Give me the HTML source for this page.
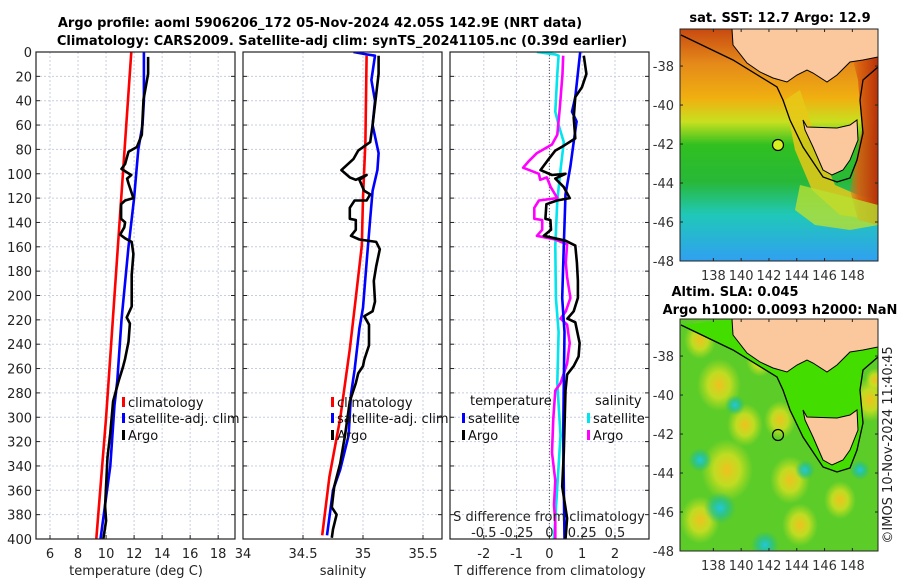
<!DOCTYPE html>
<html><head><meta charset="utf-8"><style>
body{margin:0;background:#fff;}
svg{display:block;font-family:"DejaVu Sans","Liberation Sans",sans-serif;}
</style></head><body>
<svg id="fig" width="900" height="580" viewBox="0 0 900 580" xmlns="http://www.w3.org/2000/svg">
<defs>
<linearGradient id="sstg" x1="0" y1="0" x2="0" y2="1">
<stop offset="0" stop-color="#c84a10"/><stop offset="0.15" stop-color="#e58a1a"/><stop offset="0.3" stop-color="#f0b010"/><stop offset="0.4" stop-color="#c8e020"/><stop offset="0.5" stop-color="#30c020"/><stop offset="0.66" stop-color="#28b838"/><stop offset="0.8" stop-color="#20c8b8"/><stop offset="1" stop-color="#30a0f0"/>
</linearGradient>
<linearGradient id="sstE" x1="0" y1="0" x2="1" y2="0">
<stop offset="0" stop-color="#e07a18" stop-opacity="0"/><stop offset="0.4" stop-color="#d86010" stop-opacity="0.9"/><stop offset="1" stop-color="#b83008" stop-opacity="1"/>
</linearGradient>
<radialGradient id="yb"><stop offset="0" stop-color="#f0c020"/><stop offset="0.5" stop-color="#d8e020" stop-opacity="0.8"/><stop offset="1" stop-color="#c0e020" stop-opacity="0"/></radialGradient>
<radialGradient id="cb"><stop offset="0" stop-color="#20c8e0"/><stop offset="0.5" stop-color="#20c0a0" stop-opacity="0.7"/><stop offset="1" stop-color="#20c080" stop-opacity="0"/></radialGradient>
<clipPath id="m1c"><rect x="680" y="29" width="198" height="232"/></clipPath>
<clipPath id="m2c"><rect x="680" y="319" width="198" height="232"/></clipPath>
<clipPath id="p1c"><rect x="36" y="52" width="199" height="487"/></clipPath>
<clipPath id="p2c"><rect x="243" y="52" width="199" height="487"/></clipPath>
<clipPath id="p3c"><rect x="450" y="52" width="199" height="487"/></clipPath>
</defs>
<text x="320" y="27" text-anchor="middle" font-weight="bold" font-size="13">Argo profile: aoml 5906206_172 05-Nov-2024 42.05S 142.9E (NRT data)</text>
<text x="342" y="45" text-anchor="middle" font-weight="bold" font-size="13">Climatology: CARS2009. Satellite-adj clim: synTS_20241105.nc (0.39d earlier)</text>
<g id="grids"></g>
<g id="lines"></g>
<g id="frames"></g>
<g id="maps"></g>
<text transform="translate(892,445) rotate(-90)" text-anchor="middle" font-size="13" fill="#222">©IMOS 10-Nov-2024 11:40:45</text>
</svg>
<script>
// ---- data ----
const depthTicks=[0,20,40,60,80,100,120,140,160,180,200,220,240,260,280,300,320,340,360,380,400];
const tempTicks=[6,8,10,12,14,16,18];
const salTicks=[34,34.5,35,35.5];
const tdTicks=[-2,-1,0,1,2];
const sdTicks=[-0.5,-0.25,0,0.25,0.5];
const latTicks=[-38,-40,-42,-44,-46,-48];
const lonTicks=[138,140,142,144,146,148];

const climTD=[0,100,200,300,400];
const climT=[11.8,11.2,10.6,10.0,9.3];
const satTD=[0,40,60,80,120,160,220,270,290,340,400];
const satT=[12.7,12.7,12.6,12.3,12.0,11.6,11.1,10.8,10.6,10.3,9.6];
const argoTD=[4,18,39,68,78,82,92,96,99,101,104,108,120,122,125,137,140,144,150,153,156,166,183,195,209,218,223,238,252,259,270,287,313,333,356,373,385,400];
const argoT=[13.0,13.0,12.67,12.55,12.2,11.6,11.36,11.1,11.5,11.8,11.5,11.6,11.95,11.36,11.07,11.07,11.36,11.3,11.0,11.36,11.83,11.95,11.83,11.83,11.83,11.47,11.7,11.6,11.36,11.2,10.9,10.5,10.3,10.1,10.0,9.93,10.0,9.8];

const climSD=[3,74,120,159,202,244,301,349,397];
const climS=[35.03,35.02,35.0,34.99,34.94,34.89,34.81,34.72,34.66];
const satSD=[0,2,3,23,40,60,83,97,114,137,173,210,227,261,281,315,343,360,397];
const satS=[34.92,35.03,35.1,35.07,35.1,35.08,35.13,35.12,35.08,35.06,35.03,35.0,34.97,34.93,34.9,34.88,34.81,34.75,34.7];
const argoSD=[3,18,60,74,81,88,97,103,105,101,105,114,117,122,122,128,137,138,146,151,154,156,162,176,188,205,213,217,224,241,253,258,264,272,278,287,315,338,357,374,380,392,399];
const argoS=[35.13,35.13,35.08,35.06,34.96,34.92,34.82,34.89,34.94,35.03,34.97,35.01,35.06,35.03,34.93,34.89,34.89,34.94,34.94,34.9,34.97,35.11,35.14,35.11,35.09,35.1,35.08,35.01,35.05,35.05,35.01,35.0,34.96,34.94,34.92,34.89,34.85,34.81,34.76,34.74,34.78,34.75,34.74];

const satTdD=[0,12,37,49,57,74,94,117,159,202,230,272,315,357,400];
const satTd=[0.94,0.89,0.79,0.69,0.83,0.74,0.64,0.49,0.44,0.39,0.46,0.44,0.42,0.44,0.46];
const argoTdD=[3,18,29,37,54,71,77,81,88,97,101,100,104,111,120,122,125,137,138,146,151,155,159,173,188,202,213,219,222,239,250,258,265,278,329,357,383,400];
const argoTd=[1.05,1.13,0.99,0.79,0.74,0.79,0.44,0.18,-0.02,-0.27,0.08,0.49,0.18,0.44,0.62,0.23,-0.09,-0.12,0.03,0.05,-0.17,0.49,0.79,0.84,0.87,0.87,0.74,0.55,0.79,0.92,0.89,0.74,0.54,0.49,0.44,0.39,0.54,0.49];
const satSdD=[0,2,3,18,49,60,74,97,122,159,202,230,272,315,357,400];
const satSd=[-0.095,0.045,0.07,0.06,0.045,0.07,0.11,0.085,0.06,0.045,0.05,0.07,0.06,0.085,0.06,0.035];
const argoSdD=[3,18,45,68,76,83,90,95,100,105,103,111,120,122,128,137,138,146,151,154,158,173,185,202,213,219,224,239,256,272,278,301,329,352,372,386,400];
const argoSd=[0.105,0.1,0.08,0.06,0.02,-0.095,-0.16,-0.2,-0.08,-0.07,-0.02,0.01,0.06,-0.08,-0.115,-0.115,-0.055,-0.055,-0.095,0.045,0.135,0.125,0.135,0.16,0.125,0.085,0.135,0.155,0.135,0.085,0.045,0.03,0.02,0.045,0.035,0.045,0.045];

// ---- axes ----
const NS='http://www.w3.org/2000/svg';
const Y0=52,Y1=539;
const yD=d=>Y0+(d/400)*(Y1-Y0);
const xT=v=>36+(v-5)*(199/14.2);
const xS=v=>243+(v-34)*120;
const xTd=v=>450+(v+3.03)*32.8;
const xSd=v=>xTd(v*4);
function el(tag,attrs,parent){const e=document.createElementNS(NS,tag);for(const k in attrs)e.setAttribute(k,attrs[k]);parent.appendChild(e);return e;}
const fig=document.getElementById('fig'),G=document.getElementById('grids'),L=document.getElementById('lines'),F=document.getElementById('frames');
const panels=[{x:36,xf:xT,ticks:tempTicks,label:'temperature (deg C)',c:'p1c',n:'temperature'},{x:243,xf:xS,ticks:salTicks,label:'salinity',c:'p2c',n:'salinity'},{x:450,xf:xTd,ticks:tdTicks,label:'T difference from climatology',c:'p3c',n:'difference'}];
panels.forEach((p,i)=>{
  depthTicks.forEach(d=>{
    const g=el('line',{x1:p.x,x2:p.x+199,y1:yD(d),y2:yD(d),stroke:'#c8cde0','stroke-width':1,'stroke-dasharray':'2,2'},G);
    
    
    el('line',{x1:p.x,x2:p.x+4,y1:yD(d),y2:yD(d),stroke:'#222'},F);
    el('line',{x1:p.x+195,x2:p.x+199,y1:yD(d),y2:yD(d),stroke:'#222'},F);
    if(i===0){const t=el('text',{x:p.x-4,y:yD(d)+5,'text-anchor':'end','font-size':13,fill:'#222'},F);t.textContent=d;
      
      }
  });
  p.ticks.forEach(v=>{
    const x=p.xf(v);
    const g=el('line',{x1:x,x2:x,y1:Y0,y2:Y1,stroke:'#c8cde0','stroke-dasharray':'2,2'},G);
    
    
    el('line',{x1:x,x2:x,y1:Y1-4,y2:Y1,stroke:'#222'},F);
    const t=el('text',{x:x,y:558,'text-anchor':'middle','font-size':13,fill:'#222'},F);t.textContent=v;
    
    
  });
  const r=el('rect',{x:p.x,y:Y0,width:199,height:Y1-Y0,fill:'none',stroke:'#222','stroke-width':1.2},F);
  
  
  const lb=el('text',{x:p.x+100,y:575,'text-anchor':'middle','font-size':13,fill:'#222'},F);lb.textContent=p.label;
  
  
});
const z=el('line',{x1:xTd(0),x2:xTd(0),y1:Y0,y2:Y1,stroke:'#555','stroke-dasharray':'1,2'},G);



function line(xs,ds,xf,col,clip,name){
  const pts=xs.map((v,i)=>xf(v).toFixed(1)+','+yD(ds[i]).toFixed(1)).join(' ');
  const pl=el('polyline',{points:pts,fill:'none',stroke:col,'stroke-width':2.6,'stroke-linejoin':'round','clip-path':'url(#'+clip+')'},L);
  
  
}
line(climT,climTD,xT,'#ff0000','p1c','temp-climatology-line');
line(satT,satTD,xT,'#0000ff','p1c','temp-satellite-line');
line(argoT,argoTD,xT,'#000000','p1c','temp-argo-line');
line(climS,climSD,xS,'#ff0000','p2c','sal-climatology-line');
line(satS,satSD,xS,'#0000ff','p2c','sal-satellite-line');
line(argoS,argoSD,xS,'#000000','p2c','sal-argo-line');
line(satSd,satSdD,xSd,'#00e5ee','p3c','sdiff-satellite-line');
line(argoSd,argoSdD,xSd,'#ff00ff','p3c','sdiff-argo-line');
line(satTd,satTdD,xTd,'#0000ff','p3c','tdiff-satellite-line');
line(argoTd,argoTdD,xTd,'#000000','p3c','tdiff-argo-line');

sdTicks.forEach(v=>{const t=el('text',{x:xSd(v),y:537,'text-anchor':'middle','font-size':13,fill:'#222'},F);t.textContent=v;
  
  });
{const t=el('text',{x:549,y:521,'text-anchor':'middle','font-size':13,fill:'#222'},F);t.textContent='S difference from climatology';
 
 }

function legend(x,y,col,txt){
  const r=el('rect',{x:x,y:y-9,width:3,height:10,fill:col},F);
  
  
  const t=el('text',{x:x+6,y:y+1,'font-size':13,fill:'#111'},F);t.textContent=txt;
  
  
}
[[122,'#ff0000','climatology',406],[122,'#0000ff','satellite-adj. clim',422],[122,'#000','Argo',439]].forEach(a=>legend(a[0],a[3],a[1],a[2]));
[[331,'#ff0000','climatology',406],[331,'#0000ff','satellite-adj. clim',422],[331,'#000','Argo',439]].forEach(a=>legend(a[0],a[3],a[1],a[2]));
{const t=el('text',{x:470,y:405,'font-size':13,fill:'#111'},F);t.textContent='temperature';}
{const t=el('text',{x:595,y:405,'font-size':13,fill:'#111'},F);t.textContent='salinity';}
legend(462,422,'#0000ff','satellite');legend(462,439,'#000','Argo');
legend(587,422,'#00e5ee','satellite');legend(587,439,'#ff00ff','Argo');

// maps
const M=document.getElementById('maps');
const landMain=[[732,29],[733,45],[747,63],[760,72],[773,78],[787,82],[797,75],[807,70],[813,73],[827,82],[837,75],[850,62],[863,60],[878,57],[878,29]];
const tas=[[803,120],[807,127],[837,128],[850,125],[857,120],[858,140],[850,160],[843,170],[832,175],[823,170],[813,147],[805,130]];
const contour=[[681,35],[733,60],[777,87],[783,100],[790,120],[803,147],[823,177],[837,182],[850,178],[857,160],[863,133],[860,100],[863,80],[878,67]];
function poly(arr,dy){return arr.map(p=>p[0]+','+(p[1]+dy)).join(' ');}
function mapAxes(dy){
  const top=29+dy;
  latTicks.forEach(v=>{const y=top+ (v+36.1)/(-11.9)*232;
    el('line',{x1:680,x2:683,y1:y,y2:y,stroke:'#222'},M);el('line',{x1:875,x2:878,y1:y,y2:y,stroke:'#222'},M);
    const t=el('text',{x:674,y:y+5,'text-anchor':'end','font-size':13,fill:'#333'},M);t.textContent=v;
    
    });
  lonTicks.forEach(v=>{const x=680+(v-135.6)*13.9;
    el('line',{x1:x,x2:x,y1:top+229,y2:top+232,stroke:'#222'},M);el('line',{x1:x,x2:x,y1:top,y2:top+3,stroke:'#222'},M);
    const t=el('text',{x:x,y:top+251,'text-anchor':'middle','font-size':13,fill:'#333'},M);t.textContent=v;
    
    });
  el('rect',{x:680,y:top,width:198,height:232,fill:'none',stroke:'#222'},M);
}
{
  const g=el('g',{'clip-path':'url(#m1c)'},M);
  
  
  el('rect',{x:680,y:29,width:198,height:232,fill:'url(#sstg)'},g);
  el('polygon',{points:'800,90 820,150 835,185 858,195 878,200 878,220 840,215 812,190 795,150 785,100',fill:'#e8c818',opacity:0.85},g);
  el('polygon',{points:'845,29 878,29 878,225 858,220 850,190 862,130 858,80',fill:'url(#sstE)'},g);
  el('polygon',{points:'800,185 840,195 878,205 878,225 850,230 815,225 795,210',fill:'#b8e030',opacity:0.8},g);
  el('polygon',{points:poly(landMain,0),fill:'#fac89c'},g);
  el('polygon',{points:poly(tas,0),fill:'#fac89c',stroke:'#000','stroke-width':1},g);
  el('polyline',{points:poly(landMain.slice(0,14),0),fill:'none',stroke:'#000','stroke-width':1},g);
  el('polyline',{points:poly(contour,0),fill:'none',stroke:'#000','stroke-width':1.3},g);
  const c=el('circle',{cx:778,cy:145,r:5.5,fill:'#d8f020',stroke:'#000','stroke-width':1.2},g);
  
  
  mapAxes(0);
  const t=el('text',{x:780,y:22,'text-anchor':'middle','font-weight':'bold','font-size':13},M);t.textContent='sat. SST: 12.7 Argo: 12.9';
  
  
}
{
  const dy=290;
  const g=el('g',{'clip-path':'url(#m2c)'},M);
  
  
  el('rect',{x:680,y:319,width:198,height:232,fill:'#5ccc28'},g);
  [[719,385,22],[727,470,26],[745,425,18],[790,480,20],[800,525,18],[840,500,16],[870,400,18],[700,340,16],[760,360,14],[780,420,16],[700,520,20],[875,380,10]].forEach(b=>el('ellipse',{cx:b[0],cy:b[1],rx:b[2],ry:b[2]*1.2,fill:'url(#yb)'},g));
  [[720,508,16],[765,545,14],[805,470,10],[860,470,10],[735,405,10],[700,460,12]].forEach(b=>el('ellipse',{cx:b[0],cy:b[1],rx:b[2],ry:b[2],fill:'url(#cb)'},g));
  el('polygon',{points:poly(contour,dy)+' 878,'+(57+dy)+' 878,'+(29+dy)+' 733,'+(29+dy),fill:'#44dd00'},g);
  el('polygon',{points:poly(landMain,dy),fill:'#fac89c'},g);
  el('polygon',{points:poly(tas,dy),fill:'#fac89c',stroke:'#000','stroke-width':1},g);
  el('polyline',{points:poly(landMain.slice(0,14),dy),fill:'none',stroke:'#000','stroke-width':1},g);
  el('polyline',{points:poly(contour,dy),fill:'none',stroke:'#000','stroke-width':1.3},g);
  const c=el('circle',{cx:778,cy:435,r:5.5,fill:'none',stroke:'#000','stroke-width':1.2},g);
  
  
  mapAxes(dy);
  const t1=el('text',{x:735,y:296,'text-anchor':'middle','font-weight':'bold','font-size':13},M);t1.textContent='Altim. SLA: 0.045';
  
  
  const t2=el('text',{x:780,y:314,'text-anchor':'middle','font-weight':'bold','font-size':13},M);t2.textContent='Argo h1000: 0.0093 h2000: NaN';
  
  
}
</script>
</body></html>
